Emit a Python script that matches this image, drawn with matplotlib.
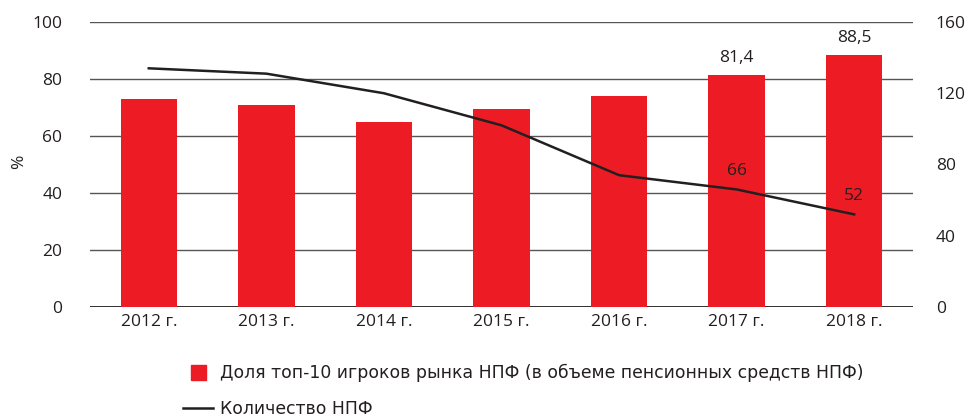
import matplotlib
matplotlib.use("Agg")
import matplotlib.pyplot as plt
from matplotlib.lines import Line2D

years = ["2012 г.", "2013 г.", "2014 г.", "2015 г.", "2016 г.", "2017 г.", "2018 г."]
top10_share = [73, 71, 65, 69.5, 74.2, 81.4, 88.5]
npf_count = [134, 131, 120, 102, 74, 66, 52]
share_labels = {5: "81,4", 6: "88,5"}
count_labels = {5: "66", 6: "52"}
left_ticks = [0, 20, 40, 60, 80, 100]
right_ticks = [0, 40, 80, 120, 160]

RED = "#ED1C24"
DARK = "#231F20"
plt.rcParams['font.family'] = ['Open Sans', 'DejaVu Sans']

fig = plt.figure(figsize=(9.71, 4.17), dpi=100)
ax = fig.add_axes([90/971, 1-307/417, 823/971, 285/417])
x = list(range(len(years)))

for t in left_ticks:
    ax.axhline(t, color="#555555" if t else DARK, lw=1.0 if t else 1.3, zorder=0)

ax.bar(x, top10_share, width=0.48, color=RED, zorder=2)
ax.set_xlim(-0.5, 6.5)
ax.set_ylim(0, 100)
ax.set_yticks(left_ticks)
ax.set_xticks(x)
ax.set_xticklabels(years)
ax.tick_params(axis='y', length=0, pad=20, labelsize=12.5, colors=DARK)
ax.tick_params(axis='x', length=0, pad=5, labelsize=12.5, colors=DARK)
for s in ax.spines.values():
    s.set_visible(False)
ax.set_ylabel("%", fontsize=12.5, color=DARK, rotation=90)
ax.yaxis.set_label_coords((27 - 90) / 823, 0.51)

for i, lab in share_labels.items():
    ax.text(i, top10_share[i] + 3.2, lab, ha='center', va='bottom', fontsize=12.5, color=DARK)

ax2 = ax.twinx()
ax2.plot(x, npf_count, color=DARK, lw=1.8, zorder=3)
ax2.set_ylim(0, 160)
ax2.set_yticks(right_ticks)
ax2.tick_params(axis='y', length=0, pad=16.5, labelsize=12.5, colors=DARK)
for s in ax2.spines.values():
    s.set_visible(False)
for i, lab in count_labels.items():
    ax2.text(i, npf_count[i] + 6.0, lab, ha='center', va='bottom', fontsize=12.5, color=DARK)

handles = [Line2D([], [], marker='s', markersize=10.8, color=RED, linestyle='none'),
           Line2D([], [], color=DARK, lw=1.8)]
labels = ["Доля топ-10 игроков рынка НПФ (в объеме пенсионных средств НПФ)", "Количество НПФ"]
fig.legend(handles, labels, loc='upper left', bbox_to_anchor=(183/971, 1-364/417),
           frameon=False, prop={'family': 'DejaVu Sans', 'size': 12.4},
           handlelength=1.75, handletextpad=0.4, labelspacing=1.05, borderpad=0,
           borderaxespad=0, labelcolor=DARK)

fig.savefig("out.png", dpi=100)
